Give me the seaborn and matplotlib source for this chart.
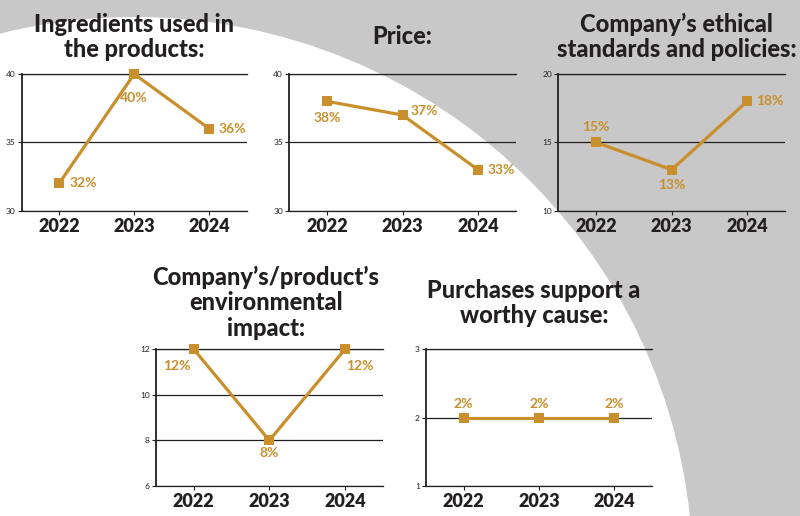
import matplotlib
matplotlib.use('Agg')
import matplotlib.pyplot as plt
import matplotlib.patches as mpatches
import seaborn as sns
import pandas as pd

# --- data ---
years = [2022, 2023, 2024]
ingredients = [32, 40, 36]
price = [38, 37, 33]
ethics = [15, 13, 18]
environment = [12, 8, 12]
worthy_cause = [2, 2, 2]

titles = [
    "Ingredients used in\nthe products:",
    "Price:",
    "Company\u2019s ethical\nstandards and policies:",
    "Company\u2019s/product\u2019s\nenvironmental\nimpact:",
    "Purchases support a\nworthy cause:",
]
series = [ingredients, price, ethics, environment, worthy_cause]
yticks = [[30, 35, 40], [30, 35, 40], [10, 15, 20], [6, 8, 10, 12], [1, 2, 3]]

# --- layout (pixels in a 800x516 canvas) ---
W, H = 800, 516
# left, right, top, bottom of each plot area
boxes = [(21.7, 246.7, 74, 210.7), (289.3, 515.7, 74, 210.7), (558.3, 785, 74, 210.7),
         (156, 382.7, 349.3, 486), (426, 651.7, 349.3, 486)]
title_pos = [(134, 37), (401.7, 36.7), (676.7, 37), (266, 302.7), (534, 303.3)]
# label offsets (dx, dy) in pixels (dy positive = down) and alignment
label_off = [
    [(10, 0, 'left'), (0, 24, 'center'), (9, 0, 'left')],
    [(0, 17, 'center'), (8, -4, 'left'), (10, 0, 'left')],
    [(0, -15, 'center'), (0, 15, 'center'), (9, 0, 'left')],
    [(-17, 17, 'center'), (0, 13, 'center'), (15, 17, 'center')],
    [(0, -14, 'center'), (0, -14, 'center'), (0, -14, 'center')],
]

gold = '#c98f2c'
ink = '#231f20'

sns.set_style('ticks')
plt.rcParams['font.family'] = ['Lato', 'DejaVu Sans']

fig = plt.figure(figsize=(W / 100, H / 100), dpi=100)
fig.patch.set_facecolor('#c8c8c8')

# background with the big white circle
bg = fig.add_axes([0, 0, 1, 1], zorder=-10)
bg.set_xlim(0, W)
bg.set_ylim(H, 0)
bg.axis('off')
bg.add_patch(mpatches.Circle((135, 575), 558, facecolor='white', edgecolor='none'))

for i, vals in enumerate(series):
    l, r, t, b = boxes[i]
    ax = fig.add_axes([l / W, 1 - b / H, (r - l) / W, (b - t) / H])
    ax.set_facecolor('none')
    df = pd.DataFrame({'year': years, 'value': vals})
    sns.lineplot(data=df, x='year', y='value', ax=ax, color=gold, linewidth=2.3,
                 marker='s', markersize=6.5, markeredgewidth=0, zorder=5, clip_on=False)
    ax.set_xlim(2021.5, 2024.5)
    ax.set_ylim(yticks[i][0], yticks[i][-1])
    ax.set_xticks(years)
    ax.set_xticklabels([str(y) for y in years], fontsize=13, fontweight='heavy', color=ink)
    ax.set_yticks(yticks[i])
    ax.set_yticklabels([str(v) for v in yticks[i]], fontsize=6, color=ink)
    ax.tick_params(axis='y', length=3, width=0.8, pad=1.5, color=ink)
    ax.tick_params(axis='x', length=3, width=0.8, pad=2, color=ink)
    ax.set_xlabel('')
    ax.set_ylabel('')
    ax.yaxis.grid(True, color=ink, linewidth=0.9)
    ax.spines['right'].set_visible(False)
    for s in ['top', 'bottom']:
        ax.spines[s].set_color(ink)
        ax.spines[s].set_linewidth(0.9)
    ax.spines['left'].set_color(ink)
    ax.spines['left'].set_linewidth(1.3)

    for j, (x, y) in enumerate(zip(years, vals)):
        dx, dy, ha = label_off[i][j]
        ax.annotate(f"{y}%", (x, y), xytext=(dx, -dy), textcoords='offset pixels',
                    ha=ha, va='center', fontsize=10, fontweight='bold', color=gold,
                    zorder=6)

    tx, ty = title_pos[i]
    fig.text(tx / W, 1 - ty / H, titles[i], ha='center', va='center', fontsize=17,
             fontweight='black', color=ink, linespacing=1.12)

fig.savefig('out.png', dpi=100, facecolor=fig.get_facecolor())
